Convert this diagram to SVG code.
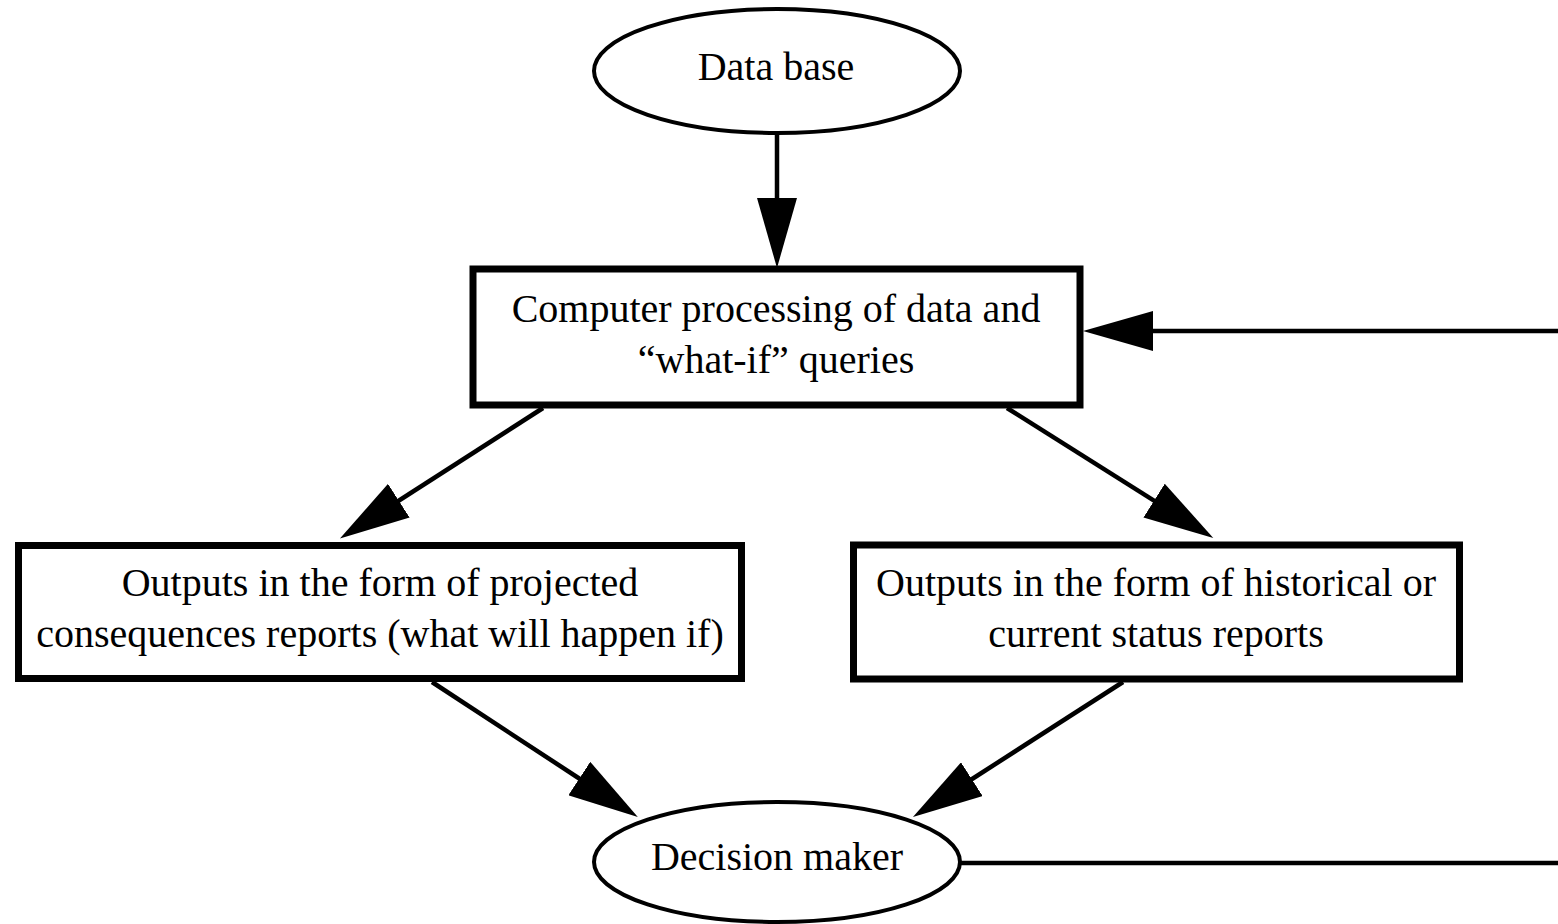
<svg xmlns="http://www.w3.org/2000/svg" width="1558" height="924" viewBox="0 0 1558 924">
<defs>
<style>
.node{fill:#fff;stroke:#000}
.box{stroke-width:7}
.ell{stroke-width:4}
.lbl{font-family:"Liberation Serif","Times New Roman",serif;font-size:40px;fill:#000;text-anchor:middle}
.edge{stroke:#000;stroke-width:4.5;fill:none}
</style>
<marker id="ah" markerUnits="userSpaceOnUse" viewBox="0 -20 70 40" refX="20" refY="0" markerWidth="70" markerHeight="40" orient="auto">
<path d="M0,-20 L70,0 L0,20 Z" fill="#000"/>
</marker>
</defs>
<rect width="1558" height="924" fill="#fff"/>
<g id="connectors">
<line class="edge" x1="777" y1="133" x2="777" y2="218" marker-end="url(#ah)"/>
<line class="edge" x1="1558" y1="331" x2="1133" y2="331" marker-end="url(#ah)"/>
<line class="edge" x1="543" y1="408" x2="382" y2="511.5" marker-end="url(#ah)"/>
<line class="edge" x1="1007" y1="408" x2="1171" y2="511.3" marker-end="url(#ah)"/>
<line class="edge" x1="432" y1="682" x2="596" y2="789.5" marker-end="url(#ah)"/>
<line class="edge" x1="1123" y1="682" x2="955" y2="790" marker-end="url(#ah)"/>
<line class="edge" x1="960" y1="863" x2="1558" y2="863"/>
</g>
<g id="database">
<ellipse class="node ell" cx="777" cy="71" rx="183" ry="62"/>
<text class="lbl" x="776" y="80">Data base</text>
</g>
<g id="processing">
<rect class="node box" x="473" y="269" width="607" height="136"/>
<text class="lbl" x="776" y="322">Computer processing of data and</text>
<text class="lbl" x="776" y="373">“what-if” queries</text>
</g>
<g id="projected">
<rect class="node box" x="18.5" y="545.5" width="723" height="133"/>
<text class="lbl" x="380" y="596">Outputs in the form of projected</text>
<text class="lbl" x="380" y="647">consequences reports (what will happen if)</text>
</g>
<g id="historical">
<rect class="node box" x="853.5" y="545" width="606" height="134"/>
<text class="lbl" x="1156" y="596">Outputs in the form of historical or</text>
<text class="lbl" x="1156" y="647">current status reports</text>
</g>
<g id="decision">
<ellipse class="node ell" cx="777" cy="862" rx="183" ry="60"/>
<text class="lbl" x="777" y="870">Decision maker</text>
</g>
</svg>
